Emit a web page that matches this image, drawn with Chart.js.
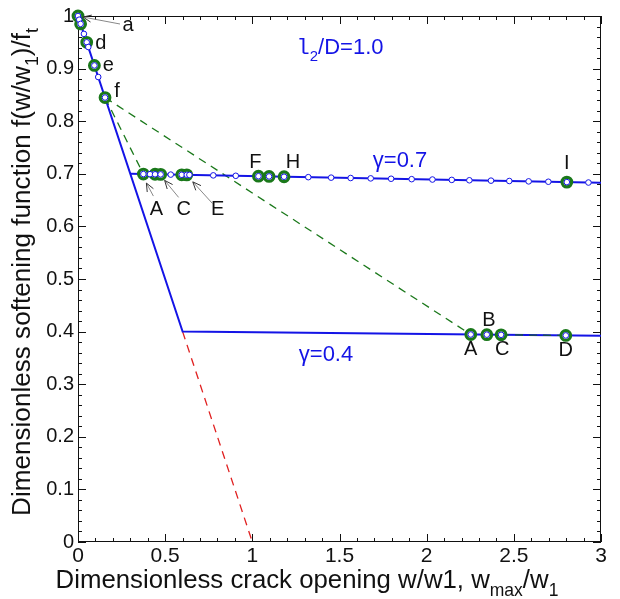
<!DOCTYPE html>
<html><head><meta charset="utf-8">
<script src="https://cdn.jsdelivr.net/npm/chart.js@4.4.0/dist/chart.umd.min.js"></script>
<style>html,body{margin:0;padding:0;background:#fff;}canvas{display:block;}</style>
</head><body>
<canvas id="c" width="620" height="599"></canvas>
<script>
// ---- data ----
const xTickValues = [0, 0.5, 1, 1.5, 2, 2.5, 3];
const yTickValues = [0, 0.1, 0.2, 0.3, 0.4, 0.5, 0.6, 0.7, 0.8, 0.9, 1];

const mainLineX = [0, 0.6, 3];
const mainLineY = [1, 0.4, 0.392];
const g07LineX = [0.3, 3];
const g07LineY = [0.7, 0.683];
const redLineX = [0.6, 1];
const redLineY = [0.4, 0];
const greenDashAX = [0.155, 0.375];
const greenDashAY = [0.845, 0.6995];
const greenDashBX = [0.155, 2.253];
const greenDashBY = [0.845, 0.3945];
const greenDashCX = [2.427, 2.798];
const greenDashCY = [0.3939, 0.3927];

const initX = [0, 0.007, 0.015, 0.034, 0.05, 0.059, 0.094, 0.116, 0.155];
const initY = [1, 0.993, 0.985, 0.966, 0.95, 0.941, 0.906, 0.884, 0.845];
const initGreenX = [0, 0.015, 0.05, 0.094, 0.155];
const initGreenY = [1, 0.985, 0.95, 0.906, 0.845];

const g07X = [0.375, 0.413, 0.442, 0.474, 0.532, 0.595, 0.624, 0.639, 0.776, 0.905, 1.035, 1.096, 1.182, 1.321, 1.452, 1.564, 1.679, 1.796, 1.914, 2.033, 2.144, 2.245, 2.369, 2.474, 2.585, 2.698, 2.804, 2.928];
const g07Y = [0.6995, 0.6993, 0.6991, 0.6989, 0.6985, 0.6981, 0.6980, 0.6979, 0.6970, 0.6962, 0.6954, 0.6950, 0.6944, 0.6936, 0.6927, 0.6920, 0.6913, 0.6906, 0.6898, 0.6891, 0.6884, 0.6877, 0.6870, 0.6863, 0.6856, 0.6849, 0.6842, 0.6834];
const g07GreenX = [0.375, 0.442, 0.474, 0.595, 0.624, 1.035, 1.096, 1.182, 2.804];
const g07GreenY = [0.6995, 0.6991, 0.6989, 0.6981, 0.6980, 0.6954, 0.6950, 0.6944, 0.6842];

const g04GreenX = [2.253, 2.345, 2.427, 2.798];
const g04GreenY = [0.3945, 0.3942, 0.3939, 0.3927];

// point labels, anchored at data points
const ptLabels = ['a', 'd', 'e', 'f', 'A', 'C', 'E', 'F', 'H', 'I', 'A', 'B', 'C', 'D'];
const ptLabelX = [0, 0.05, 0.094, 0.155, 0.375, 0.474, 0.624, 1.035, 1.182, 2.804, 2.253, 2.345, 2.427, 2.798];
const ptLabelY = [1, 0.95, 0.906, 0.845, 0.6995, 0.6989, 0.6980, 0.6954, 0.6944, 0.6842, 0.3945, 0.3942, 0.3939, 0.3927];

// ---- styling ----
const BLUE = '#1414e6';
const GREEN = '#1a781a';
const FONT = "'Liberation Sans', Arial, sans-serif";
// label offsets in px [dx, dy] and optional arrow [sx, sy, ex, ey]
const labelStyle = [
  {dx: 50, dy: 9, arrow: [42, 8, 5, 1]},
  {dx: 14, dy: 1},
  {dx: 14, dy: 0},
  {dx: 12, dy: -6},
  {dx: 13, dy: 35, arrow: [10, 22, 3, 9]},
  {dx: 23, dy: 35, arrow: [18, 23, 4, 6]},
  {dx: 31, dy: 35, arrow: [26, 29, 6, 7]},
  {dx: -3, dy: -14},
  {dx: 9, dy: -14},
  {dx: 0, dy: -19},
  {dx: 0, dy: 15},
  {dx: 2, dy: -14},
  {dx: 1, dy: 15},
  {dx: 0, dy: 15}
];

function pts(xs, ys) { return xs.map((x, i) => ({x: x, y: ys[i]})); }

function drawRich(ctx, segs, size, x, y) {
  let w = 0;
  const parts = segs.map(s => {
    const fs = s.sub ? size * 0.68 : size;
    ctx.font = fs + 'px ' + (s.family || FONT);
    const mw = ctx.measureText(s.t).width;
    w += mw;
    return {s, fs, mw};
  });
  let cx = x - w / 2;
  ctx.textAlign = 'left';
  ctx.textBaseline = 'alphabetic';
  parts.forEach(p => {
    ctx.font = p.fs + 'px ' + (p.s.family || FONT);
    ctx.fillText(p.s.t, cx, y + (p.s.sub ? size * 0.32 : 0));
    cx += p.mw;
  });
  return w;
}
function richWidth(ctx, segs, size) {
  let w = 0;
  segs.forEach(s => {
    const fs = s.sub ? size * 0.68 : size;
    ctx.font = fs + 'px ' + (s.family || FONT);
    w += ctx.measureText(s.t).width;
  });
  return w;
}

const framePlugin = {
  id: 'frame',
  beforeDatasetsDraw(chart) {
    const ctx = chart.ctx;
    const xs = chart.scales.x, ys = chart.scales.y;
    const a = chart.chartArea;
    ctx.save();
    ctx.strokeStyle = '#111';
    ctx.lineWidth = 1;
    ctx.strokeRect(a.left + 0.5, a.top + 0.5, a.right - a.left - 1, a.bottom - a.top - 1);
    for (let i = 0; i <= 30; i++) {
      const px = Math.round(xs.getPixelForValue(i / 10)) + 0.5;
      const len = (i % 5 === 0) ? 8 : 4;
      ctx.beginPath();
      ctx.moveTo(px, a.bottom); ctx.lineTo(px, a.bottom - len);
      ctx.moveTo(px, a.top); ctx.lineTo(px, a.top + len);
      ctx.stroke();
    }
    for (let i = 0; i <= 50; i++) {
      const py = Math.round(ys.getPixelForValue(i / 50)) + 0.5;
      const len = (i % 5 === 0) ? 8 : 4;
      ctx.beginPath();
      ctx.moveTo(a.left, py); ctx.lineTo(a.left + len, py);
      ctx.moveTo(a.right, py); ctx.lineTo(a.right - len, py);
      ctx.stroke();
    }
    ctx.restore();
  }
};

const decorPlugin = {
  id: 'decor',
  afterDatasetsDraw(chart) {
    const ctx = chart.ctx;
    const xs = chart.scales.x, ys = chart.scales.y;
    ctx.save();
    // point labels
    ptLabels.forEach((t, i) => {
      const st = labelStyle[i];
      const px = xs.getPixelForValue(ptLabelX[i]);
      const py = ys.getPixelForValue(ptLabelY[i]);
      ctx.fillStyle = '#111';
      ctx.font = '20px ' + FONT;
      ctx.textAlign = 'center';
      ctx.textBaseline = 'middle';
      ctx.fillText(t, px + st.dx, py + st.dy);
      if (st.arrow) {
        const [sx, sy, ex, ey] = st.arrow;
        const x1 = px + sx, y1 = py + sy, x2 = px + ex, y2 = py + ey;
        ctx.strokeStyle = '#888';
        ctx.lineWidth = 1;
        ctx.beginPath(); ctx.moveTo(x1, y1); ctx.lineTo(x2, y2); ctx.stroke();
        const ang = Math.atan2(y2 - y1, x2 - x1);
        ctx.strokeStyle = '#333';
        ctx.beginPath();
        ctx.moveTo(x2 - 9 * Math.cos(ang - 0.4), y2 - 9 * Math.sin(ang - 0.4));
        ctx.lineTo(x2, y2);
        ctx.lineTo(x2 - 9 * Math.cos(ang + 0.4), y2 - 9 * Math.sin(ang + 0.4));
        ctx.stroke();
      }
    });
    // blue annotations
    ctx.fillStyle = BLUE;
    drawRich(ctx, [{t: 'l', family: "'Liberation Mono', monospace"}, {t: '2', sub: true}, {t: '/D=1.0'}], 22, 340, 54);
    drawRich(ctx, [{t: 'γ=0.7'}], 22, 400, 167);
    drawRich(ctx, [{t: 'γ=0.4'}], 22, 326, 361);
    // axis titles
    ctx.fillStyle = '#111';
    const xt = [{t: 'Dimensionless crack opening w/w1, w'}, {t: 'max', sub: true}, {t: '/w'}, {t: '1', sub: true}];
    const xsz = 20 * 503 / richWidth(ctx, xt, 20);
    drawRich(ctx, xt, xsz, 307, 588);
    const yt = [{t: 'Dimensionless softening function f(w/w'}, {t: '1', sub: true}, {t: ')/f'}, {t: 't', sub: true}];
    const ysz = 20 * 488 / richWidth(ctx, yt, 20);
    ctx.save();
    ctx.translate(30, 272);
    ctx.rotate(-Math.PI / 2);
    drawRich(ctx, yt, ysz, 0, 0);
    ctx.restore();
    ctx.restore();
  }
};

// "order": higher values are drawn first (underneath)
const lineDs = (xs, ys, color, width, dash, order) => ({
  data: pts(xs, ys), showLine: true, borderColor: color, borderWidth: width,
  borderDash: dash || [], pointRadius: 0, fill: false, tension: 0, order: order
});
const markDs = (xs, ys, r, bw, color, order) => ({
  data: pts(xs, ys), showLine: false, pointRadius: r, pointBorderWidth: bw,
  pointBorderColor: color, pointBackgroundColor: '#fff', pointHoverRadius: r, order: order,
  clip: false
});

new Chart(document.getElementById('c'), {
  type: 'scatter',
  data: {
    datasets: [
      lineDs(redLineX, redLineY, '#e02020', 1.3, [8, 6], 12),
      lineDs(greenDashAX, greenDashAY, GREEN, 1.3, [8, 6], 11),
      lineDs(greenDashBX, greenDashBY, GREEN, 1.3, [8, 6], 10),
      lineDs(mainLineX, mainLineY, BLUE, 2, null, 9),
      lineDs(g07LineX, g07LineY, BLUE, 2, null, 8),
      lineDs(greenDashCX, greenDashCY, '#1a5a3a', 1.3, [8, 6], 7),
      markDs(initGreenX, initGreenY, 4.8, 3.2, GREEN, 6),
      markDs(g07GreenX, g07GreenY, 4.8, 3.2, GREEN, 5),
      markDs(g04GreenX, g04GreenY, 4.8, 3.2, GREEN, 4),
      markDs(initX, initY, 2.8, 1, BLUE, 3),
      markDs(g07X, g07Y, 2.8, 1, BLUE, 2),
      markDs(g04GreenX, g04GreenY, 2.8, 1, BLUE, 1)
    ]
  },
  options: {
    responsive: false,
    animation: false,
    devicePixelRatio: 1,
    layout: {padding: {top: 16, right: 19, left: 0, bottom: 0}},
    plugins: {legend: {display: false}, tooltip: {enabled: false}},
    scales: {
      x: {
        type: 'linear', min: 0, max: 3,
        afterFit: s => { s.height = 57; },
        afterBuildTicks: s => { s.ticks = xTickValues.map(v => ({value: v})); },
        grid: {display: false, drawTicks: false},
        border: {display: false},
        ticks: {color: '#111', font: {family: FONT, size: 21}, padding: 2, maxRotation: 0,
                callback: v => String(v)}
      },
      y: {
        type: 'linear', min: 0, max: 1,
        afterFit: s => { s.width = 78; },
        afterBuildTicks: s => { s.ticks = yTickValues.map(v => ({value: v})); },
        grid: {display: false, drawTicks: false},
        border: {display: false},
        ticks: {color: '#111', font: {family: FONT, size: 20}, padding: 4,
                callback: v => String(v)}
      }
    }
  },
  plugins: [framePlugin, decorPlugin]
});
</script>
</body></html>
